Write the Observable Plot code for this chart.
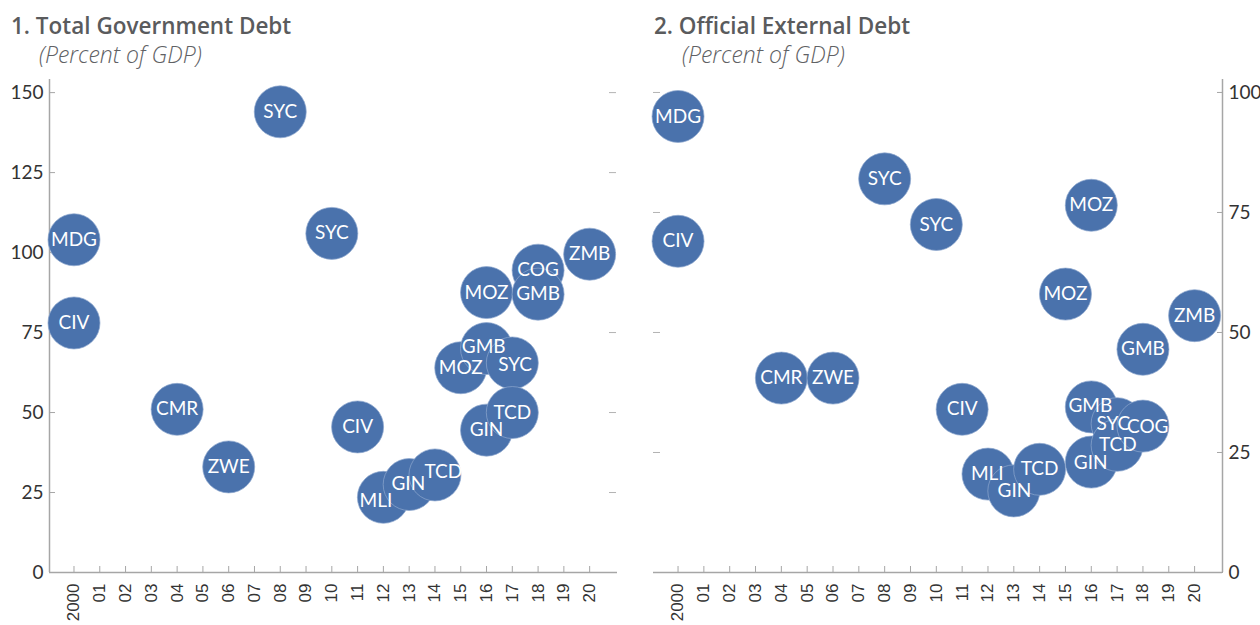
<!DOCTYPE html>
<html>
<head>
<meta charset="utf-8">
<script src="https://cdn.jsdelivr.net/npm/d3@7"></script>
<script src="https://cdn.jsdelivr.net/npm/@observablehq/plot@0.6"></script>
<style>
  html, body { margin: 0; padding: 0; background: #fff; }
  body { width: 1260px; height: 625px; position: relative; overflow: hidden; font-family: Lato, "Noto Sans", sans-serif; }
  .panel { position: absolute; top: 0; width: 630px; height: 625px; }
  .title { position: absolute; top: 15px; font: 600 22.5px "Open Sans", sans-serif; color: #5a5b5d; white-space: nowrap; line-height: 1; }
  .sub { position: absolute; top: 43px; font: italic 300 23px "Open Sans", sans-serif; color: #606164; white-space: nowrap; line-height: 1; }
  .chart { position: absolute; top: 70px; left: 0; }
</style>
</head>
<body>
<div class="panel" id="p1" style="left:0">
  <div class="title" style="left:11px">1. Total Government Debt</div>
  <div class="sub" style="left:39px">(Percent of GDP)</div>
  <div class="chart" id="c1"></div>
</div>
<div class="panel" id="p2" style="left:630px">
  <div class="title" style="left:24px">2. Official External Debt</div>
  <div class="sub" style="left:52px">(Percent of GDP)</div>
  <div class="chart" id="c2"></div>
</div>
<script>
// ---- Data ----
const tickYears = [2000,2001,2002,2003,2004,2005,2006,2007,2008,2009,2010,2011,2012,2013,2014,2015,2016,2017,2018,2019,2020];

// Panel 1: Total Government Debt (percent of GDP)
const codes1  = ["MDG","CIV","CMR","ZWE","SYC","SYC","CIV","MLI","GIN","TCD","MOZ","GMB","MOZ","GIN","SYC","TCD","COG","GMB","ZMB"];
const years1  = [2000,2000,2004,2006,2008,2010,2011,2012,2013,2014,2015,2016,2016,2016,2017,2017,2018,2018,2020];
const values1 = [104,78,51,33,144,106,45.5,23.5,27.5,30.5,64,70,87.5,44.5,65.5,50,94.5,87,99.5];
const yTicks1 = [0,25,50,75,100,125,150];

// Panel 2: Official External Debt (percent of GDP)
const codes2  = ["MDG","CIV","CMR","ZWE","SYC","SYC","CIV","MLI","GIN","TCD","MOZ","MOZ","GMB","GIN","SYC","TCD","COG","GMB","ZMB"];
const years2  = [2000,2000,2004,2006,2008,2010,2011,2012,2013,2014,2015,2016,2016,2016,2017,2017,2018,2018,2020];
const values2 = [95,69,40.5,40.5,82,72.5,34,20.5,17,21.5,58,76.5,34.5,23,31,26.5,30.5,46.5,53.5];
const yTicks2 = [0,25,50,75,100];

const BLUE = "#4a72ac";
const fmtYear = y => y === 2000 ? "2000" : String(y).slice(2);

// Simple label repulsion in pixel space, converted back to data space
function repel(data, xs, ys, fontSize) {
  const L = data.map(d => {
    const px = xs(d.year), py = ys(d.value);
    return {d, ax: px, ay: py, x: px, y: py, w: d.code.length * fontSize * 0.6, h: fontSize * 0.92};
  });
  const maxShift = 16;
  for (let it = 0; it < 400; it++) {
    let moved = false;
    for (let i = 0; i < L.length; i++) for (let j = i + 1; j < L.length; j++) {
      const a = L[i], b = L[j];
      const ox = (a.w + b.w) / 2 - Math.abs(a.x - b.x);
      const oy = (a.h + b.h) / 2 - Math.abs(a.y - b.y);
      if (ox > 0 && oy > 0) {
        moved = true;
        let vx = b.x - a.x, vy = b.y - a.y;
        if (Math.abs(vx) < 1e-6 && Math.abs(vy) < 1e-6) { vx = 0; vy = 1; }
        const n = Math.hypot(vx, vy);
        const s = 0.4;
        a.x -= vx / n * s; a.y -= vy / n * s;
        b.x += vx / n * s; b.y += vy / n * s;
      }
    }
    for (const l of L) {
      const dx = l.x - l.ax, dy = l.y - l.ay, n = Math.hypot(dx, dy);
      if (n > maxShift) { l.x = l.ax + dx / n * maxShift; l.y = l.ay + dy / n * maxShift; }
    }
    if (!moved) break;
  }
  return L.map(l => ({code: l.d.code, lx: xs.invert(l.x), ly: ys.invert(l.y)}));
}

function panel(codes, years, values, yTicks, yMax, side) {
  const data = codes.map((c, i) => ({code: c, year: years[i], value: values[i]}));
  const xDomain = [1999.05, 2021.08];
  const main = side === "left" ? "left" : "right";
  const other = side === "left" ? "right" : "left";
  const W = 630, H = 555, mT = 9, mB = 53;
  const mL = side === "left" ? 49 : 23, mR = side === "left" ? 13 : 38;
  const fs = 19;
  const xs = d3.scaleLinear(xDomain, [mL, W - mR]);
  const ys = d3.scaleLinear([0, yMax], [H - mB, mT]);
  const labels = repel(data, xs, ys, fs);
  return Plot.plot({
    width: W,
    height: H,
    marginTop: mT,
    marginBottom: mB,
    marginLeft: mL,
    marginRight: mR,
    style: {fontFamily: "Lato, sans-serif", overflow: "visible", background: "white"},
    x: {domain: xDomain, axis: null},
    y: {domain: [0, yMax], axis: null},
    marks: [
      // axis lines
      Plot.ruleY([0], {stroke: "#a6a6a6", strokeWidth: 1.5}),
      Plot.ruleX([side === "left" ? xDomain[0] : xDomain[1]], {stroke: "#a6a6a6", strokeWidth: 1.5}),
      // x tick marks (inward)
      Plot.axisX({ticks: tickYears, tickSize: 6, dy: -6, tickFormat: () => "", stroke: "#a6a6a6", label: null}),
      // x tick labels (rotated)
      Plot.axisX({ticks: tickYears, tickSize: 0, tickPadding: 11, tickRotate: -90, tickFormat: fmtYear,
                  fontSize: 17, fontFamily: "'Liberation Sans', Arial, sans-serif", fill: "#333", label: null}),
      // main y axis: ticks inward + labels
      Plot.axisY({anchor: main, ticks: yTicks, tickSize: 6, dx: side === "left" ? 6 : -6, tickFormat: () => "", stroke: "#a6a6a6", label: null}),
      Plot.axisY({anchor: main, ticks: yTicks, tickSize: 0, tickPadding: 6, fontSize: 19, fill: "#333", label: null}),
      // faint dashes on opposite side
      Plot.axisY({anchor: other, ticks: yTicks.filter(t => t > 0), tickSize: 7, dx: side === "left" ? -9 : 7, tickFormat: () => "", stroke: "#b3b3b3", label: null}),
      // bubbles
      Plot.dot(data, {x: "year", y: "value", r: 26, fill: BLUE, stroke: "#8ea8cf", strokeWidth: 0.7}),
      Plot.text(labels, {x: "lx", y: "ly", text: "code", fill: "white", fontSize: fs, fontFamily: "Lato, sans-serif"})
    ]
  });
}

document.getElementById("c1").append(panel(codes1, years1, values1, yTicks1, 154.1, "left"));
document.getElementById("c2").append(panel(codes2, years2, values2, yTicks2, 102.7, "right"));
</script>
</body>
</html>
